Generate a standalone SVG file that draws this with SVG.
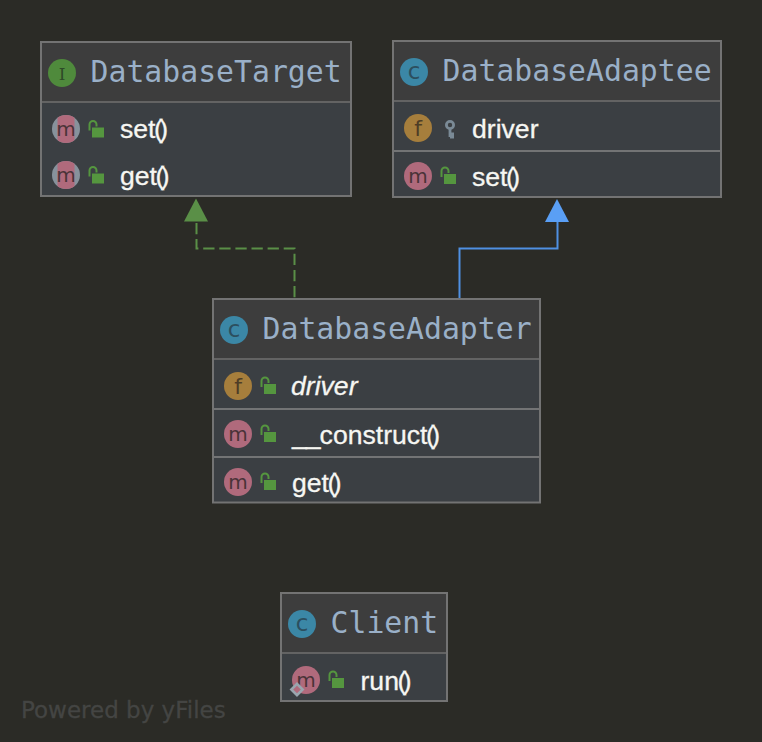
<svg xmlns="http://www.w3.org/2000/svg" width="762" height="742" viewBox="0 0 762 742">
<style>
.box{fill:#3b3f43;stroke:#737373;stroke-width:2}
.head{fill:#3d3d3d}
.div{stroke:#636363;stroke-width:2}
.div2{stroke:#737475;stroke-width:2}
.title{font:29.8px "DejaVu Sans Mono",monospace;fill:#9ab0c8}
.mem{font:26.6px "Liberation Sans",Arial,sans-serif;fill:#f6f6f2;stroke:#f6f6f2;stroke-width:.3}
.ic{font:20px "DejaVu Sans",sans-serif;fill:#4a3338;text-anchor:middle}
.icc{font-size:23px;fill:#2c4f5f}
.icf{font-size:22px;fill:#4f3d26}
.lockb{fill:#55963f}
.locks{fill:none;stroke:#55963f;stroke-width:2}
</style>
<defs>
<g id="lock"><rect class="lockb" x="0" y="0" width="12" height="10"/><path class="locks" d="M-2.500 3V-3a3.500 3.500 0 0 1 7 0v2"/></g>
<circle id="cc" r="14" fill="#3b87a6"/>
<circle id="cm" r="14" fill="#b06a7c"/>
<circle id="cf" r="14" fill="#a67e3c"/>
<clipPath id="mid"><rect x="-8.500" y="-14" width="17" height="28"/></clipPath>
<g id="am"><circle r="14" fill="#87929c"/><circle r="14" fill="#b06a7c" clip-path="url(#mid)"/></g>
</defs>
<rect width="762" height="742" fill="#2b2b26"/>
<g id="connectors">
<path d="M196.500 223V248.500H294.500V298" fill="none" stroke="#5a8f47" stroke-width="2" stroke-dasharray="11.300 4.800"/>
<polygon points="196,198.500 184,221.500 208,221.500" fill="#5a8f47"/>
<path d="M459.500 298V248.500H557.500V220" fill="none" stroke="#4f90e2" stroke-width="2"/>
<polygon points="557,199 545,222 569,222" fill="#5a9ff5"/>
</g>
<g id="DatabaseTarget">
<rect class="box" x="41" y="42" width="310" height="154"/>
<rect class="head" x="42" y="43" width="308" height="58"/>
<line class="div" x1="42" y1="102" x2="350" y2="102"/>
<circle cx="62" cy="73" r="14" fill="#4f8a3c"/>
<text class="ic" x="62" y="79.500" style="font-size:17px;fill:#2e4a28;font-family:'DejaVu Serif',serif">I</text>
<text class="title" x="90.500" y="81.700">DatabaseTarget</text>
<use href="#am" x="66" y="129"/><text class="ic" x="66" y="136">m</text>
<use href="#lock" x="92" y="127.500"/>
<text class="mem" x="120" y="138">set<tspan dx="-1.500" letter-spacing="-3.500">()</tspan></text>
<use href="#am" x="66" y="175"/><text class="ic" x="66" y="182">m</text>
<use href="#lock" x="92" y="173.500"/>
<text class="mem" x="120" y="185">get<tspan dx="-1.500" letter-spacing="-3.500">()</tspan></text>
</g>
<g id="DatabaseAdaptee">
<rect class="box" x="393" y="41" width="328" height="156"/>
<rect class="head" x="394" y="42" width="326" height="58"/>
<line class="div" x1="394" y1="101" x2="720" y2="101"/>
<line class="div2" x1="394" y1="151" x2="720" y2="151"/>
<use href="#cc" x="414" y="72"/><text class="ic icc" x="414" y="79">c</text>
<text class="title" x="442.500" y="80.700">DatabaseAdaptee</text>
<use href="#cf" x="418" y="128"/><text class="ic icf" x="418" y="136">f</text>
<g fill="none" stroke="#7a8a96" stroke-width="2.800"><circle cx="450" cy="125" r="3.600"/><path d="M450 129V137M450 134H454M450 137H454"/></g>
<text class="mem" x="472" y="138">driver</text>
<use href="#cm" x="418" y="176"/><text class="ic" x="418" y="183">m</text>
<use href="#lock" x="444" y="174"/>
<text class="mem" x="472" y="186">set<tspan dx="-1.500" letter-spacing="-3.500">()</tspan></text>
</g>
<g id="DatabaseAdapter">
<rect class="box" x="213" y="299" width="327" height="203.500"/>
<rect class="head" x="214" y="300" width="325" height="58"/>
<line class="div" x1="214" y1="359" x2="539" y2="359"/>
<line class="div2" x1="214" y1="409" x2="539" y2="409"/>
<line class="div2" x1="214" y1="457" x2="539" y2="457"/>
<use href="#cc" x="234" y="330"/><text class="ic icc" x="234" y="337">c</text>
<text class="title" x="262.500" y="338.700">DatabaseAdapter</text>
<use href="#cf" x="238" y="386"/><text class="ic icf" x="238" y="394">f</text>
<use href="#lock" x="264" y="384"/>
<text class="mem" x="291" y="395" style="font-style:italic">driver</text>
<use href="#cm" x="238" y="434"/><text class="ic" x="238" y="441">m</text>
<use href="#lock" x="264" y="432"/>
<text class="mem" x="292" y="444"><tspan letter-spacing="-1">__</tspan>construct<tspan dx="-1.500" letter-spacing="-3.500">()</tspan></text>
<use href="#cm" x="238" y="482"/><text class="ic" x="238" y="489">m</text>
<use href="#lock" x="264" y="480"/>
<text class="mem" x="292" y="492">get<tspan dx="-1.500" letter-spacing="-3.500">()</tspan></text>
</g>
<g id="Client">
<rect class="box" x="281" y="593" width="166" height="108"/>
<rect class="head" x="282" y="594" width="164" height="58"/>
<line class="div" x1="282" y1="653" x2="446" y2="653"/>
<use href="#cc" x="302" y="624"/><text class="ic icc" x="302" y="631">c</text>
<text class="title" x="330.500" y="632.700">Client</text>
<use href="#cm" x="306" y="680"/><text class="ic" x="306" y="687">m</text>
<rect x="293" y="685.500" width="8" height="8" transform="rotate(45 297 689.500)" fill="#b06a7c" stroke="#9aa5ae" stroke-width="2.600"/>
<use href="#lock" x="332" y="678"/>
<text class="mem" x="360.500" y="690">run<tspan dx="-1.500" letter-spacing="-3.500">()</tspan></text>
</g>
<text x="21" y="718" style="font:23px 'DejaVu Sans',sans-serif;fill:#444543;stroke:#444543;stroke-width:.3">Powered by yFiles</text>
</svg>
